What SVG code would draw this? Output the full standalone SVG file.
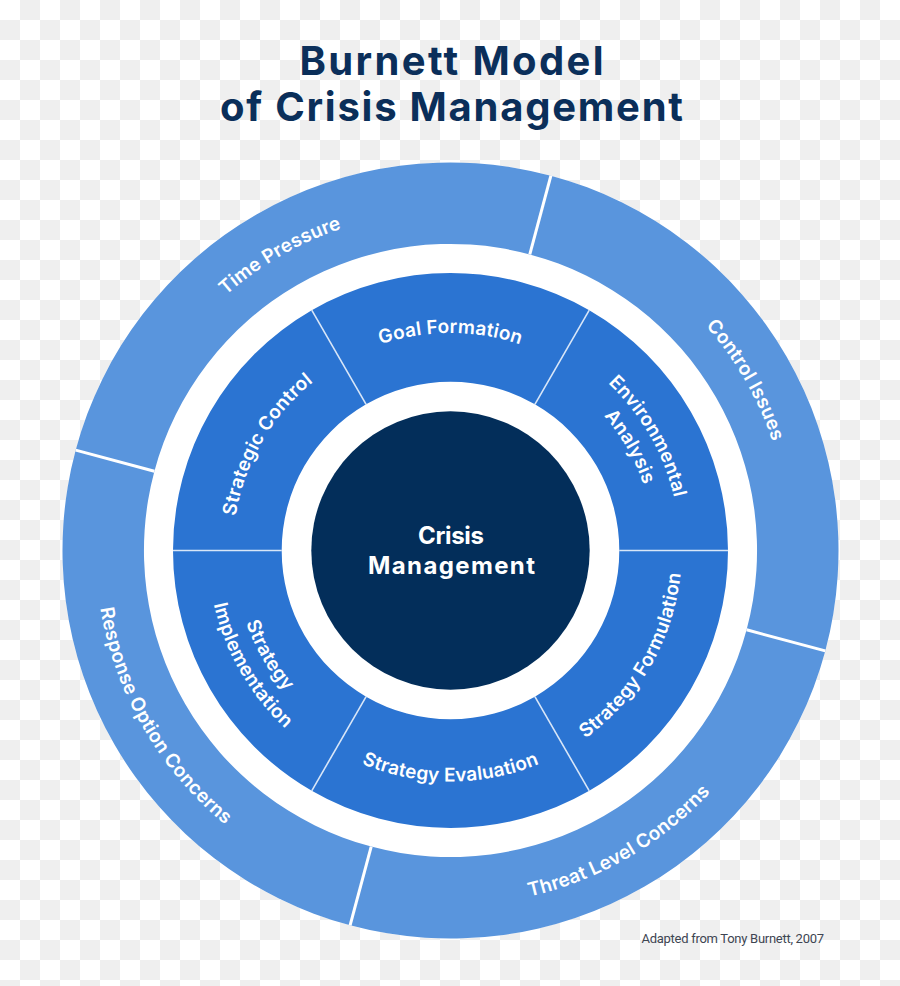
<svg xmlns="http://www.w3.org/2000/svg" width="900" height="986" viewBox="0 0 900 986">
<style>
.ttl{font-family:Inter,"Open Sans",sans-serif;font-weight:700;font-size:40px;fill:#0b2f5a;text-anchor:middle}
.ctr{font-family:Inter,"Open Sans",sans-serif;font-weight:700;font-size:24px;fill:#fff;text-anchor:middle}
.lbl{font-family:Inter,"Open Sans",sans-serif;font-weight:600;font-size:19px;letter-spacing:0.2px;fill:#fff;text-anchor:middle}
.outer{fill:#5995dd}
.mid{fill:#2b74d2}
.odiv{stroke:#fff;stroke-width:3}
.mdiv{stroke:#d8e6f8;stroke-width:1.6}
.note{font-family:Roboto,"Liberation Sans",sans-serif;font-size:13px;fill:#3e4552}
</style>
<defs>
<pattern id="cb" width="40" height="40" patternUnits="userSpaceOnUse">
<rect width="40" height="40" fill="#ffffff"/>
<rect x="20" y="0" width="20" height="20" fill="#efefef"/>
<rect x="0" y="20" width="20" height="20" fill="#efefef"/>
</pattern>
<path id="pTime" d="M131.0,666.8 A340,340 0 0 1 710.9,331.9"/>
<path id="pCtrl" d="M334.2,231.0 A340,340 0 0 1 669.1,810.9"/>
<path id="pThreat" d="M178.6,778.7 A355,355 0 0 0 784.1,429.1"/>
<path id="pResp" d="M222.3,278.6 A355,355 0 0 0 571.9,884.1"/>
<path id="pGoal" d="M236.3,512.7 A217.5,217.5 0 0 1 664.7,512.7"/>
<path id="pEnv1" d="M371.8,334.4 A230,230 0 0 1 598.3,726.7"/>
<path id="pEnv2" d="M380.7,358.8 A204,204 0 0 1 581.6,706.8"/>
<path id="pForm" d="M371.5,767.6 A231,231 0 0 0 599.0,373.5"/>
<path id="pEval" d="M223.0,590.6 A231,231 0 0 0 678.0,590.6"/>
<path id="pImp1" d="M311.0,384.3 A217,217 0 0 0 524.7,754.4"/>
<path id="pImp2" d="M294.3,364.4 A243,243 0 0 0 533.6,778.8"/>
<path id="pSC" d="M310.7,717.1 A217.5,217.5 0 0 1 524.9,346.1"/>
</defs>
<rect width="900" height="986" fill="url(#cb)"/>
<g id="title">
<text class="ttl" x="451.5" y="75" textLength="304">Burnett Model</text>
<text class="ttl" x="451.5" y="121" textLength="463">of Crisis Management</text>
</g>
<circle cx="450.5" cy="550.5" r="388" fill="#fff"/>
<g id="time-pressure">
<path class="outer" d="M75.7,450.1 A388,388 0 0 1 550.9,175.7 L529.8,254.4 A306.5,306.5 0 0 0 154.4,471.2 Z"/>
<text class="lbl"><textPath href="#pTime" startOffset="50%">Time Pressure</textPath></text>
</g>
<g id="control-issues">
<path class="outer" d="M550.9,175.7 A388,388 0 0 1 825.3,650.9 L746.6,629.8 A306.5,306.5 0 0 0 529.8,254.4 Z"/>
<text class="lbl"><textPath href="#pCtrl" startOffset="50%">Control Issues</textPath></text>
</g>
<g id="threat-level-concerns">
<path class="outer" d="M825.3,650.9 A388,388 0 0 1 350.1,925.3 L371.2,846.6 A306.5,306.5 0 0 0 746.6,629.8 Z"/>
<text class="lbl"><textPath href="#pThreat" startOffset="50%">Threat Level Concerns</textPath></text>
</g>
<g id="response-option-concerns">
<path class="outer" d="M350.1,925.3 A388,388 0 0 1 75.7,450.1 L154.4,471.2 A306.5,306.5 0 0 0 371.2,846.6 Z"/>
<text class="lbl"><textPath href="#pResp" startOffset="50%">Response Option Concerns</textPath></text>
</g>
<g id="goal-formation">
<path class="mid" d="M311.75,310.2 A277.5,277.5 0 0 1 589.25,310.2 L534.9,404.3 A168.8,168.8 0 0 0 366.1,404.3 Z"/>
<text class="lbl"><textPath href="#pGoal" startOffset="50%">Goal Formation</textPath></text>
</g>
<g id="environmental-analysis">
<path class="mid" d="M589.25,310.2 A277.5,277.5 0 0 1 728,550.5 L619.3,550.5 A168.8,168.8 0 0 0 534.9,404.3 Z"/>
<text class="lbl"><textPath href="#pEnv1" startOffset="50%">Environmental</textPath></text>
<text class="lbl"><textPath href="#pEnv2" startOffset="50%">Analysis</textPath></text>
</g>
<g id="strategy-formulation">
<path class="mid" d="M728,550.5 A277.5,277.5 0 0 1 589.25,790.8 L534.9,696.7 A168.8,168.8 0 0 0 619.3,550.5 Z"/>
<text class="lbl"><textPath href="#pForm" startOffset="50%">Strategy Formulation</textPath></text>
</g>
<g id="strategy-evaluation">
<path class="mid" d="M589.25,790.8 A277.5,277.5 0 0 1 311.75,790.8 L366.1,696.7 A168.8,168.8 0 0 0 534.9,696.7 Z"/>
<text class="lbl"><textPath href="#pEval" startOffset="50%">Strategy Evaluation</textPath></text>
</g>
<g id="strategy-implementation">
<path class="mid" d="M311.75,790.8 A277.5,277.5 0 0 1 173,550.5 L281.7,550.5 A168.8,168.8 0 0 0 366.1,696.7 Z"/>
<text class="lbl"><textPath href="#pImp1" startOffset="50%">Strategy</textPath></text>
<text class="lbl"><textPath href="#pImp2" startOffset="50%">Implementation</textPath></text>
</g>
<g id="strategic-control">
<path class="mid" d="M173,550.5 A277.5,277.5 0 0 1 311.75,310.2 L366.1,404.3 A168.8,168.8 0 0 0 281.7,550.5 Z"/>
<text class="lbl"><textPath href="#pSC" startOffset="50%">Strategic Control</textPath></text>
</g>
<g id="connectors">
<line class="odiv" x1="550.9" y1="175.7" x2="529.8" y2="254.4"/>
<line class="odiv" x1="825.3" y1="650.9" x2="746.6" y2="629.8"/>
<line class="odiv" x1="350.1" y1="925.3" x2="371.2" y2="846.6"/>
<line class="odiv" x1="75.7" y1="450.1" x2="154.4" y2="471.2"/>
<line class="mdiv" x1="589.25" y1="310.2" x2="534.9" y2="404.3"/>
<line class="mdiv" x1="311.75" y1="310.2" x2="366.1" y2="404.3"/>
<line class="mdiv" x1="173" y1="550.5" x2="281.7" y2="550.5"/>
<line class="mdiv" x1="728" y1="550.5" x2="619.3" y2="550.5"/>
<line class="mdiv" x1="311.75" y1="790.8" x2="366.1" y2="696.7"/>
<line class="mdiv" x1="589.25" y1="790.8" x2="534.9" y2="696.7"/>
</g>
<g id="crisis-management">
<circle cx="450.5" cy="550.5" r="139.2" fill="#032e5a"/>
<text class="ctr" x="451" y="544" textLength="66">Crisis</text>
<text class="ctr" x="451.5" y="574" textLength="167">Management</text>
</g>
<g id="source">
<text class="note" x="641.5" y="943" textLength="182.5">Adapted from Tony Burnett, 2007</text>
</g>
</svg>
